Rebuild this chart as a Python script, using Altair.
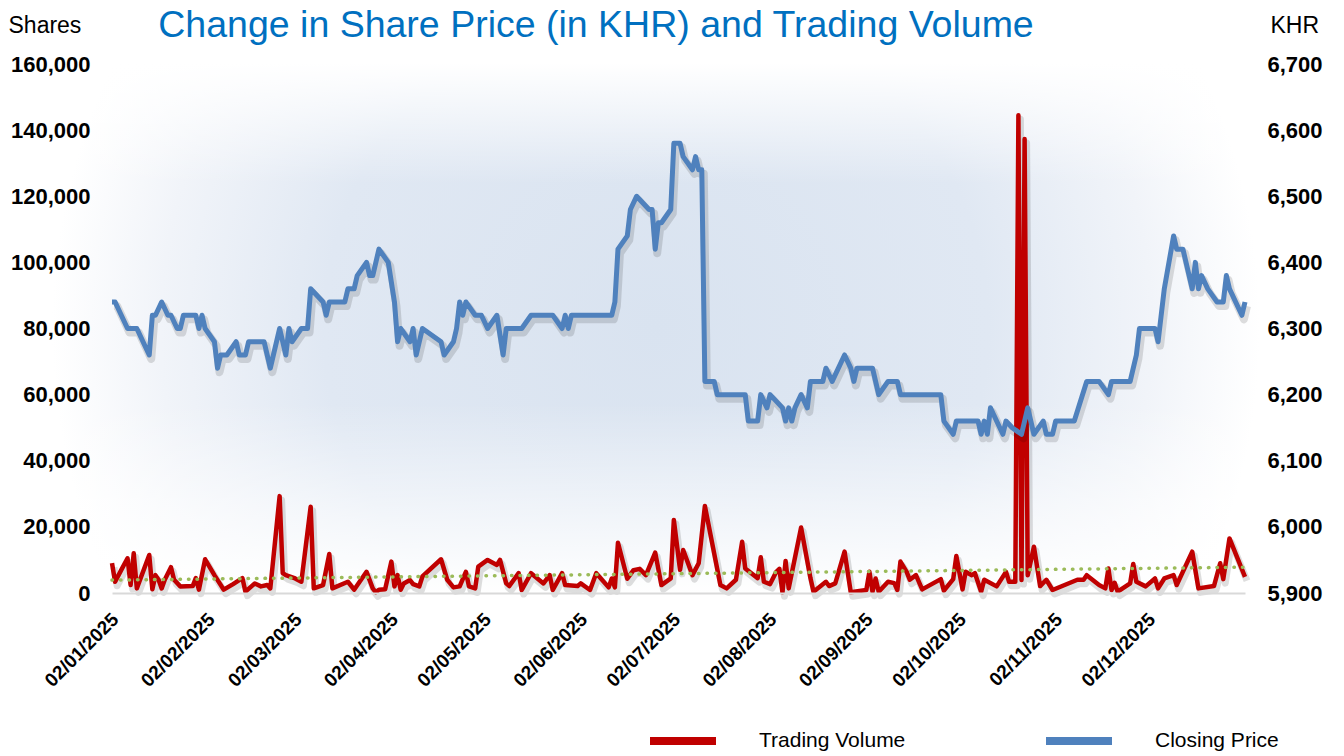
import altair as alt
import pandas as pd

title_text = "Change in Share Price (in KHR) and Trading Volume"
series_names = ["Trading Volume", "Closing Price"]
series_colors = ["#c00000", "#4f81bd"]
trend_color = "#9bbb59"

price_dates = [
    "2025-01-02", "2025-01-03", "2025-01-07", "2025-01-10", "2025-01-14", "2025-01-15", "2025-01-16",
    "2025-01-18", "2025-01-20", "2025-01-21", "2025-01-23", "2025-01-24", "2025-01-25", "2025-01-29",
    "2025-01-30", "2025-01-31", "2025-02-01", "2025-02-04", "2025-02-05", "2025-02-06", "2025-02-08",
    "2025-02-11", "2025-02-12", "2025-02-14", "2025-02-15", "2025-02-20", "2025-02-22", "2025-02-25",
    "2025-02-27", "2025-02-28", "2025-03-01", "2025-03-04", "2025-03-06", "2025-03-07", "2025-03-11",
    "2025-03-12", "2025-03-13", "2025-03-18", "2025-03-19", "2025-03-21", "2025-03-22", "2025-03-25",
    "2025-03-26", "2025-03-27", "2025-03-29", "2025-04-01", "2025-04-03", "2025-04-04", "2025-04-05",
    "2025-04-08", "2025-04-09", "2025-04-10", "2025-04-12", "2025-04-18", "2025-04-19", "2025-04-22",
    "2025-04-23", "2025-04-24", "2025-04-25", "2025-04-26", "2025-04-29", "2025-05-01", "2025-05-03",
    "2025-05-06", "2025-05-08", "2025-05-09", "2025-05-14", "2025-05-17", "2025-05-24", "2025-05-27",
    "2025-05-28", "2025-05-29", "2025-05-30", "2025-06-12", "2025-06-13", "2025-06-14", "2025-06-17",
    "2025-06-18", "2025-06-20", "2025-06-24", "2025-06-25", "2025-06-26", "2025-06-27", "2025-06-28",
    "2025-07-01", "2025-07-02", "2025-07-04", "2025-07-05", "2025-07-08", "2025-07-09", "2025-07-10",
    "2025-07-11", "2025-07-12", "2025-07-15", "2025-07-16", "2025-07-25", "2025-07-26", "2025-07-29",
    "2025-07-30", "2025-08-01", "2025-08-02", "2025-08-06", "2025-08-07", "2025-08-08", "2025-08-09",
    "2025-08-10", "2025-08-12", "2025-08-14", "2025-08-15", "2025-08-19", "2025-08-20", "2025-08-22",
    "2025-08-26", "2025-08-28", "2025-08-29", "2025-08-30", "2025-09-04", "2025-09-06", "2025-09-09",
    "2025-09-12", "2025-09-13", "2025-09-26", "2025-09-27", "2025-09-30", "2025-10-01", "2025-10-08",
    "2025-10-09", "2025-10-10", "2025-10-11", "2025-10-12", "2025-10-13", "2025-10-16", "2025-10-17",
    "2025-10-19", "2025-10-22", "2025-10-24", "2025-10-26", "2025-10-29", "2025-10-30", "2025-11-01",
    "2025-11-02", "2025-11-08", "2025-11-12", "2025-11-16", "2025-11-19", "2025-11-20", "2025-11-26",
    "2025-11-28", "2025-11-29", "2025-12-04", "2025-12-05", "2025-12-07", "2025-12-10", "2025-12-11",
    "2025-12-13", "2025-12-16", "2025-12-17", "2025-12-18", "2025-12-19", "2025-12-21", "2025-12-24",
    "2025-12-26", "2025-12-27", "2025-12-28", "2026-01-01", "2026-01-02",
]
price_values = [
    6340, 6340, 6300, 6300, 6260, 6320, 6320,
    6340, 6320, 6320, 6300, 6300, 6320, 6320,
    6300, 6320, 6300, 6280, 6240, 6260, 6260,
    6280, 6260, 6260, 6280, 6280, 6240, 6300,
    6260, 6300, 6280, 6300, 6300, 6360, 6340,
    6320, 6340, 6340, 6360, 6360, 6380, 6400,
    6380, 6380, 6420, 6400, 6340, 6280, 6300,
    6280, 6300, 6260, 6300, 6280, 6260, 6280,
    6300, 6340, 6320, 6340, 6320, 6320, 6300,
    6320, 6260, 6300, 6300, 6320, 6320, 6300,
    6320, 6300, 6320, 6320, 6340, 6420, 6440,
    6480, 6500, 6480, 6480, 6420, 6460, 6460,
    6480, 6580, 6580, 6560, 6540, 6560, 6540,
    6540, 6220, 6220, 6200, 6200, 6160, 6160,
    6200, 6180, 6200, 6180, 6160, 6180, 6160,
    6180, 6200, 6180, 6220, 6220, 6240, 6220,
    6260, 6240, 6220, 6240, 6240, 6200, 6220,
    6220, 6200, 6200, 6160, 6140, 6160, 6160,
    6140, 6160, 6140, 6180, 6170, 6140, 6160,
    6150, 6140, 6180, 6140, 6160, 6140, 6140,
    6160, 6160, 6220, 6220, 6200, 6220, 6220,
    6260, 6300, 6300, 6280, 6360, 6440, 6420,
    6420, 6360, 6400, 6360, 6380, 6360, 6340,
    6340, 6380, 6360, 6320, 6340,
]

volume_dates = [
    "2025-01-02", "2025-01-03", "2025-01-05", "2025-01-07", "2025-01-08", "2025-01-09", "2025-01-10",
    "2025-01-14", "2025-01-15", "2025-01-16", "2025-01-17", "2025-01-18", "2025-01-19", "2025-01-21",
    "2025-01-22", "2025-01-24", "2025-01-28", "2025-01-29", "2025-01-30", "2025-02-01", "2025-02-04",
    "2025-02-07", "2025-02-10", "2025-02-13", "2025-02-14", "2025-02-17", "2025-02-19", "2025-02-21",
    "2025-02-22", "2025-02-25", "2025-02-26", "2025-02-27", "2025-03-02", "2025-03-04", "2025-03-07",
    "2025-03-08", "2025-03-11", "2025-03-13", "2025-03-14", "2025-03-19", "2025-03-21", "2025-03-25",
    "2025-03-27", "2025-03-28", "2025-03-29", "2025-03-31", "2025-04-02", "2025-04-03", "2025-04-04",
    "2025-04-05", "2025-04-06", "2025-04-08", "2025-04-09", "2025-04-11", "2025-04-12", "2025-04-18",
    "2025-04-20", "2025-04-22", "2025-04-24", "2025-04-26", "2025-04-27", "2025-04-29", "2025-04-30",
    "2025-05-03", "2025-05-06", "2025-05-07", "2025-05-09", "2025-05-10", "2025-05-13", "2025-05-14",
    "2025-05-17", "2025-05-21", "2025-05-23", "2025-05-24", "2025-05-27", "2025-05-28", "2025-06-01",
    "2025-06-02", "2025-06-05", "2025-06-07", "2025-06-11", "2025-06-12", "2025-06-13", "2025-06-14",
    "2025-06-17", "2025-06-19", "2025-06-21", "2025-06-23", "2025-06-26", "2025-06-28", "2025-07-01",
    "2025-07-02", "2025-07-04", "2025-07-05", "2025-07-08", "2025-07-10", "2025-07-12", "2025-07-17",
    "2025-07-19", "2025-07-22", "2025-07-24", "2025-07-25", "2025-07-29", "2025-07-30", "2025-07-31",
    "2025-08-02", "2025-08-04", "2025-08-05", "2025-08-06", "2025-08-07", "2025-08-08", "2025-08-12",
    "2025-08-15", "2025-08-16", "2025-08-20", "2025-08-21", "2025-08-23", "2025-08-26", "2025-08-28",
    "2025-09-02", "2025-09-03", "2025-09-04", "2025-09-05", "2025-09-06", "2025-09-09", "2025-09-11",
    "2025-09-12", "2025-09-13", "2025-09-15", "2025-09-16", "2025-09-18", "2025-09-20", "2025-09-26",
    "2025-09-27", "2025-09-30", "2025-10-01", "2025-10-03", "2025-10-04", "2025-10-06", "2025-10-07",
    "2025-10-09", "2025-10-10", "2025-10-14", "2025-10-17", "2025-10-18", "2025-10-20", "2025-10-21",
    "2025-10-22", "2025-10-23", "2025-10-24", "2025-10-26", "2025-10-28", "2025-10-30", "2025-11-01",
    "2025-11-09", "2025-11-11", "2025-11-12", "2025-11-16", "2025-11-18", "2025-11-19", "2025-11-20",
    "2025-11-21", "2025-11-22", "2025-11-26", "2025-11-27", "2025-11-28", "2025-12-01", "2025-12-04",
    "2025-12-05", "2025-12-07", "2025-12-10", "2025-12-11", "2025-12-16", "2025-12-18", "2025-12-23",
    "2025-12-25", "2025-12-26", "2025-12-28", "2026-01-02",
]
volume_values = [
    9000, 3400, 7000, 10500, 2400, 12000, 1400,
    11500, 1100, 5400, 4000, 1400, 4000, 7800,
    4000, 2000, 2100, 4500, 1000, 10200, 5400,
    1000, 2700, 4500, 400, 2900, 2000, 2400,
    1400, 29300, 6000, 5400, 4400, 3400, 26100,
    1400, 2400, 11800, 1400, 3400, 1000, 6400,
    1400, 200, 1000, 1100, 9500, 2000, 5400,
    1000, 2900, 3900, 2700, 2000, 5000, 10200,
    4000, 1700, 2000, 6400, 2000, 1400, 8000,
    10000, 8500, 10000, 2900, 2100, 6000, 900,
    6000, 2900, 5400, 900, 6000, 2400, 2100,
    2900, 900, 6000, 1700, 4400, 1700, 15200,
    4300, 6900, 7300, 5400, 12200, 2400, 4400,
    22100, 7000, 13000, 5400, 9000, 26300, 2400,
    1400, 4000, 15500, 7400, 4500, 10800, 3400,
    2700, 6400, 7300, 200, 9700, 1400, 19800,
    4500, 400, 3400, 2100, 2900, 12500, 200,
    900, 6400, 400, 4400, 400, 3400, 3000,
    900, 9500, 6400, 4000, 5400, 1100, 4200,
    700, 4200, 11200, 1100, 6400, 5400, 6000,
    400, 4000, 2000, 6400, 3400, 3400, 144500,
    3900, 137300, 5400, 14000, 2100, 4000, 900,
    4000, 4000, 5400, 2400, 1400, 7400, 900,
    3100, 400, 2900, 8800, 3400, 2000, 4400,
    1400, 4400, 5400, 2400, 12500, 1400, 2100,
    9000, 4200, 16500, 4900,
]

trend_dates = ["2025-01-02", "2026-01-02"]
trend_values = [3900, 7800]

volume_ticks = [0, 20000, 40000, 60000, 80000, 100000, 120000, 140000, 160000]
price_ticks = [5900, 6000, 6100, 6200, 6300, 6400, 6500, 6600, 6700]
tick_months = [1, 2, 3, 4, 5, 6, 7, 8, 9, 10, 11, 12]

W, H = 1133, 529
FONT = "Liberation Sans"

price_df = pd.DataFrame({"date": price_dates, "value": price_values, "series": series_names[1]})
vol_df = pd.DataFrame({"date": volume_dates, "value": volume_values, "series": series_names[0]})
trend_df = pd.DataFrame({"date": trend_dates, "value": trend_values})
title_df = pd.DataFrame({"t": [title_text]})

x_enc = alt.X(
    "date:T",
    title=None,
    scale=alt.Scale(
        type="utc",
        nice=False,
        domain=[alt.DateTime(year=2025, month=1, date=2, utc=True),
                alt.DateTime(year=2026, month=1, date=2, utc=True)],
    ),
    axis=alt.Axis(
        values=[alt.DateTime(year=2025, month=m, date=2, utc=True) for m in tick_months],
        format="%d/%m/%Y",
        labelAngle=-45,
        labelAlign="right",
        labelBaseline="middle",
        labelPadding=23,
        labelOffset=3,
        labelFont=FONT,
        labelFontSize=19,
        labelFontWeight="bold",
        labelColor="#000000",
        ticks=False,
        grid=False,
        domainColor="#d9d9d9",
        domainWidth=2,
        labelOverlap=False,
        zindex=1,
    ),
)

vol_y = alt.Y(
    "value:Q",
    scale=alt.Scale(domain=[0, 160000], nice=False),
    axis=alt.Axis(
        orient="left", values=volume_ticks, format=",.0f", grid=False, ticks=False, domain=False,
        labelFont=FONT, labelFontSize=22, labelFontWeight="bold", labelColor="#000000", labelPadding=22,
        title="Shares", titleAngle=0, titleX=-104, titleY=-39, titleAlign="left", titleBaseline="middle",
        titleFont=FONT, titleFontSize=23, titleFontWeight="normal", titleColor="#000000",
        zindex=1,
    ),
)

price_y = alt.Y(
    "value:Q",
    scale=alt.Scale(domain=[5900, 6700], nice=False),
    axis=alt.Axis(
        orient="right", values=price_ticks, format=",.0f", grid=False, ticks=False, domain=False,
        labelFont=FONT, labelFontSize=22, labelFontWeight="bold", labelColor="#000000", labelPadding=22,
        title="KHR", titleAngle=0, titleX=25, titleY=-39, titleAlign="left", titleBaseline="middle",
        titleFont=FONT, titleFontSize=23, titleFontWeight="normal", titleColor="#000000",
        zindex=1,
    ),
)

color_enc = alt.Color(
    "series:N",
    scale=alt.Scale(domain=series_names, range=series_colors),
    legend=alt.Legend(
        title=None, orient="none", legendX=534, legendY=640, direction="horizontal",
        symbolType="stroke", symbolSize=4356, symbolStrokeWidth=8,
        labelFont=FONT, labelFontSize=21, labelColor="#000000", labelOffset=39,
        columnPadding=124, zindex=1,
    ),
)

# soft elliptical background: radial (horizontal fade) + white vertical fades
bg = alt.Chart(title_df).mark_rect(
    fill=alt.RadialGradient(
        gradient="radial",
        stops=[
            alt.GradientStop(offset=0, color="#d9e3f0"),
            alt.GradientStop(offset=0.55, color="#e0e8f3"),
            alt.GradientStop(offset=0.82, color="#f1f4f9"),
            alt.GradientStop(offset=1, color="#ffffff"),
        ],
        x1=0.5, y1=0.5, r1=0, x2=0.5, y2=0.5, r2=0.5,
    )
).encode(x=alt.value(-60), x2=alt.value(W + 15), y=alt.value(0), y2=alt.value(H))

fade_top = alt.Chart(title_df).mark_rect(
    fill=alt.LinearGradient(
        gradient="linear",
        stops=[
            alt.GradientStop(offset=0, color="rgba(255,255,255,1)"),
            alt.GradientStop(offset=1, color="rgba(255,255,255,0)"),
        ],
        x1=0, y1=0, x2=0, y2=1,
    )
).encode(x=alt.value(-62), x2=alt.value(W + 17), y=alt.value(-1), y2=alt.value(120))

fade_bottom = alt.Chart(title_df).mark_rect(
    fill=alt.LinearGradient(
        gradient="linear",
        stops=[
            alt.GradientStop(offset=0, color="rgba(255,255,255,0)"),
            alt.GradientStop(offset=1, color="rgba(255,255,255,1)"),
        ],
        x1=0, y1=0, x2=0, y2=1,
    )
).encode(x=alt.value(-62), x2=alt.value(W + 17), y=alt.value(H - 190), y2=alt.value(H + 1))

title = alt.Chart(title_df).mark_text(
    font=FONT, fontSize=37.5, color="#0070c0", align="center", baseline="middle"
).encode(x=alt.value(484), y=alt.value(-38), text="t:N")

vol_shadow = alt.Chart(vol_df).mark_line(
    color="#000000", opacity=0.13, strokeWidth=7, xOffset=2, yOffset=4, strokeJoin="round"
).encode(x=x_enc, y=vol_y)
vol_line = alt.Chart(vol_df).mark_line(strokeWidth=4.5, strokeJoin="round").encode(
    x=x_enc, y=vol_y, color=color_enc
)
trend = alt.Chart(trend_df).mark_line(
    color=trend_color, strokeWidth=3.5, strokeDash=[0.5, 8], strokeCap="round"
).encode(x=x_enc, y=vol_y)

price_shadow = alt.Chart(price_df).mark_line(
    color="#000000", opacity=0.13, strokeWidth=8, xOffset=2, yOffset=4, strokeJoin="round"
).encode(x=x_enc, y=price_y)
price_line = alt.Chart(price_df).mark_line(strokeWidth=5, strokeJoin="round").encode(
    x=x_enc, y=price_y, color=color_enc
)

vol_group = alt.layer(vol_shadow, vol_line, trend)
price_group = alt.layer(price_shadow, price_line)

chart = (
    alt.layer(bg, fade_top, fade_bottom, title, vol_group, price_group)
    .resolve_scale(y="independent")
    .properties(
        width=W, height=H,
        padding={"left": 104, "top": 56, "right": 80, "bottom": 160},
        autosize=alt.AutoSizeParams(type="none"),
    )
    .configure_view(stroke=None)
)

chart.save("out.html", embed_options={"renderer": "svg", "actions": False})
